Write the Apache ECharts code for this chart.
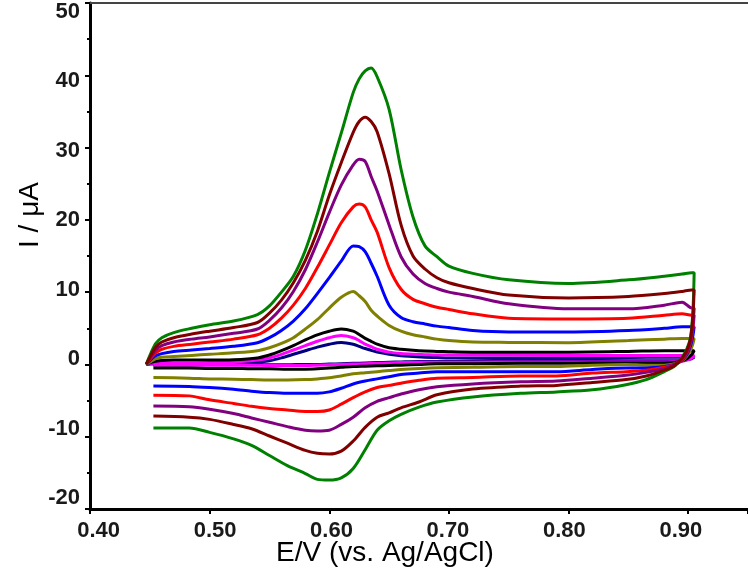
<!DOCTYPE html>
<html>
<head>
<meta charset="utf-8">
<script src="https://cdn.jsdelivr.net/npm/echarts@6/dist/echarts.min.js"></script>
<style>
html,body{margin:0;padding:0;background:#fff;}
#chart{width:748px;height:582px;}
</style>
</head>
<body>
<div id="chart"></div>
<script>
// Potentials (V vs Ag/AgCl) for forward (anodic) and reverse (cathodic) sweeps
const E_FWD = [0.447,0.451,0.455,0.460,0.470,0.485,0.500,0.520,0.540,0.550,0.560,0.570,0.580,0.590,0.600,0.610,0.620,0.625,0.630,0.635,0.640,0.650,0.660,0.670,0.680,0.690,0.700,0.720,0.750,0.800,0.850,0.880,0.895,0.903];
const E_REV = [0.905,0.904,0.902,0.899,0.895,0.889,0.880,0.865,0.848,0.820,0.790,0.760,0.720,0.690,0.675,0.660,0.650,0.640,0.630,0.620,0.610,0.600,0.590,0.580,0.565,0.550,0.535,0.520,0.500,0.483,0.453];

// Currents (µA), forward sweep
const I_FWD_NAVY    = [0,0.05,0.05,0.05,0.05,0.05,0.05,0.1,0.3,0.5,0.9,1.4,1.9,2.4,2.8,3.05,2.8,2.5,2.2,1.95,1.7,1.4,1.2,1.1,1.0,0.95,0.9,0.9,0.9,0.9,0.95,1.0,1.0,1.0];
const I_FWD_MAGENTA = [0,0.15,0.2,0.2,0.2,0.2,0.25,0.3,0.6,0.9,1.4,2.0,2.6,3.2,3.7,4.0,3.7,3.3,2.8,2.45,2.1,1.7,1.5,1.4,1.35,1.3,1.3,1.3,1.3,1.25,1.25,1.25,1.25,1.25];
const I_FWD_BLACK   = [0,0.3,0.45,0.55,0.6,0.6,0.6,0.65,0.9,1.3,1.9,2.6,3.4,4.1,4.6,4.9,4.6,4.15,3.6,3.2,2.8,2.3,2.1,1.95,1.85,1.8,1.75,1.7,1.7,1.7,1.8,1.9,1.9,1.9];
const I_FWD_OLIVE   = [0,0.4,0.8,1.0,1.1,1.25,1.4,1.6,1.9,2.3,2.9,3.7,4.9,6.2,7.8,9.3,10.1,9.5,8.7,7.5,6.7,5.4,4.6,4.1,3.8,3.5,3.3,3.1,3.05,3.0,3.3,3.5,3.6,3.6];
const I_FWD_BLUE    = [0,0.7,1.2,1.5,1.8,2.0,2.2,2.5,3.0,3.7,4.7,6.0,7.7,9.8,12.0,14.3,16.4,16.3,15.6,14.0,12.2,8.2,6.5,5.9,5.6,5.3,5.1,4.7,4.5,4.5,4.7,5.0,5.2,5.2];
const I_FWD_RED     = [0,0.9,1.6,2.1,2.5,2.8,3.1,3.5,4.1,5.0,6.4,8.2,10.5,13.4,16.5,19.6,21.8,22.2,21.8,20.0,18.3,13.4,10.4,9.0,8.4,7.9,7.6,7.0,6.4,6.3,6.4,6.8,7.0,6.8];
const I_FWD_PURPLE  = [0,1.1,2.0,2.6,3.1,3.5,3.8,4.3,4.9,6.1,7.8,10.1,13.1,16.9,21.0,24.8,27.6,28.4,28.1,26.0,24.0,19.3,14.9,12.5,11.2,10.5,10.0,9.4,8.4,7.7,7.7,8.2,8.6,7.8];
const I_FWD_GREEN   = [0,1.6,2.9,3.7,4.4,5.0,5.5,6.0,6.9,8.1,10.0,12.2,15.8,20.8,26.5,32.0,37.6,39.5,40.6,41.0,39.8,35.3,27.0,20.4,16.4,14.9,13.6,12.6,11.7,11.2,11.7,12.2,12.5,12.7];
const I_FWD_DARKRED = [0,1.3,2.4,3.1,3.7,4.2,4.6,5.1,5.8,7.1,8.9,11.3,14.4,18.4,23.4,27.9,32.1,33.6,34.2,33.6,32.2,26.4,19.3,15.0,13.2,12.0,11.3,10.5,9.6,9.2,9.4,9.8,10.1,10.3];

// Currents (µA), reverse sweep
const I_REV_NAVY    = [1.0,0.9,0.75,0.65,0.55,0.5,0.5,0.5,0.5,0.5,0.5,0.5,0.45,0.4,0.4,0.35,0.3,0.25,0.2,0.15,0.1,0.05,0.0,0.0,-0.05,-0.05,-0.05,-0.05,-0.05,-0.05,-0.05];
const I_REV_MAGENTA = [1.25,1.05,0.8,0.6,0.45,0.4,0.35,0.35,0.35,0.35,0.35,0.35,0.3,0.3,0.3,0.25,0.2,0.15,0.1,0.05,0.0,-0.05,-0.1,-0.15,-0.15,-0.15,-0.1,-0.1,-0.1,-0.1,-0.1];
const I_REV_BLACK   = [1.9,1.6,1.2,0.8,0.5,0.3,0.2,0.2,0.2,0.2,0.15,0.15,0.1,0.1,0.0,-0.1,-0.15,-0.2,-0.25,-0.3,-0.4,-0.5,-0.6,-0.65,-0.65,-0.6,-0.6,-0.55,-0.55,-0.5,-0.5];
const I_REV_OLIVE   = [3.6,2.9,2.0,1.2,0.5,0.1,-0.1,-0.1,0.0,-0.1,-0.3,-0.3,-0.4,-0.45,-0.55,-0.7,-0.85,-1.0,-1.15,-1.3,-1.6,-1.85,-2.0,-2.1,-2.15,-2.15,-2.1,-2.05,-2.0,-1.9,-1.8];
const I_REV_BLUE    = [5.2,4.0,2.6,1.4,0.6,0.0,-0.3,-0.5,-0.5,-0.7,-1.0,-1.0,-1.0,-1.0,-1.2,-1.4,-1.7,-2.0,-2.3,-2.7,-3.3,-3.8,-4.0,-4.0,-4.0,-3.9,-3.7,-3.45,-3.2,-3.05,-3.0];
const I_REV_RED     = [6.8,5.0,3.0,1.6,0.7,0.0,-0.4,-0.8,-1.0,-1.2,-1.6,-1.6,-1.8,-1.9,-2.2,-2.6,-2.9,-3.2,-3.8,-4.6,-5.5,-6.3,-6.5,-6.5,-6.3,-6.1,-5.8,-5.4,-4.9,-4.35,-4.25];
const I_REV_PURPLE  = [7.8,5.6,3.3,1.8,0.8,0.0,-0.6,-1.1,-1.5,-1.9,-2.3,-2.4,-2.7,-3.1,-3.5,-4.1,-4.6,-5.1,-6.0,-7.3,-8.3,-9.1,-9.2,-9.1,-8.6,-8.0,-7.4,-6.8,-6.2,-5.85,-5.76];
const I_REV_GREEN   = [12.7,7.5,3.8,2.2,1.0,-0.2,-1.0,-2.1,-2.8,-3.5,-3.8,-4.0,-4.5,-5.2,-5.9,-6.9,-7.8,-9.1,-11.8,-14.4,-15.7,-16.0,-15.9,-15.1,-14.0,-12.6,-11.2,-10.3,-9.4,-8.8,-8.8];
const I_REV_DARKRED = [10.3,6.8,3.6,2.0,0.9,-0.1,-0.8,-1.6,-2.1,-2.5,-2.9,-3.0,-3.4,-4.2,-5.2,-6.0,-6.7,-7.3,-8.7,-10.6,-12.0,-12.4,-12.3,-11.9,-10.9,-9.9,-8.9,-8.3,-7.6,-7.3,-7.15];

// Tick labels and titles
const X_TICKS = [0.40,0.50,0.60,0.70,0.80,0.90];
const Y_TICKS = [-20,-10,0,10,20,30,40,50];
const X_TITLE = 'E/V (vs. Ag/AgCl)';
const Y_TITLE = 'I / \u03bcA';

const CURVES = [
  ['navy',    '#000080', I_FWD_NAVY,    I_REV_NAVY],
  ['magenta', '#ff00ff', I_FWD_MAGENTA, I_REV_MAGENTA],
  ['black',   '#000000', I_FWD_BLACK,   I_REV_BLACK],
  ['olive',   '#808000', I_FWD_OLIVE,   I_REV_OLIVE],
  ['blue',    '#0000ff', I_FWD_BLUE,    I_REV_BLUE],
  ['red',     '#ff0000', I_FWD_RED,     I_REV_RED],
  ['purple',  '#800080', I_FWD_PURPLE,  I_REV_PURPLE],
  ['green',   '#008000', I_FWD_GREEN,   I_REV_GREEN],
  ['darkred', '#800000', I_FWD_DARKRED, I_REV_DARKRED]
];

function cycle(fwd, rev) {
  const pts = [];
  E_FWD.forEach((e, i) => pts.push([e, fwd[i]]));
  E_REV.forEach((e, i) => pts.push([e, rev[i]]));
  return pts;
}

const chart = echarts.init(document.getElementById('chart'), null, {renderer: 'canvas'});
const labelFont = {fontFamily: 'Liberation Sans, Arial, sans-serif', fontSize: 22, fontWeight: 'bold', color: '#1a1a1a'};
const titleFont = '28px "Liberation Sans", Arial, sans-serif';

chart.setOption({
  animation: false,
  backgroundColor: '#ffffff',
  grid: {left: 90, top: 3, width: 663, height: 506, containLabel: false},
  xAxis: [
    {type: 'value', min: 0.4, max: 0.95, interval: 0.1, position: 'bottom',
     axisLine: {onZero: false, lineStyle: {color: '#000', width: 3}},
     axisTick: {show: true, length: 5, lineStyle: {color: '#000', width: 2}},
     axisLabel: {show: false}, splitLine: {show: false}},
    {type: 'value', min: 0.39258, max: 0.95771, position: 'bottom',
     axisLine: {show: false}, axisTick: {show: false}, splitLine: {show: false},
     axisLabel: Object.assign({show: true, margin: 11, customValues: X_TICKS,
       formatter: v => v.toFixed(2)}, labelFont)},
    {type: 'value', min: 0.4, max: 0.95, position: 'top',
     axisLine: {onZero: false, lineStyle: {color: '#444', width: 2}},
     axisTick: {show: false}, axisLabel: {show: false}, splitLine: {show: false}}
  ],
  yAxis: [
    {type: 'value', min: -20, max: 50, interval: 10, position: 'left',
     axisLine: {show: true, onZero: false, lineStyle: {color: '#000', width: 3}},
     axisTick: {show: true, length: 5, lineStyle: {color: '#000', width: 2}},
     minorTick: {show: true, splitNumber: 2, length: 3, lineStyle: {color: '#000', width: 2}},
     axisLabel: {show: false}, splitLine: {show: false}},
    {type: 'value', min: -21.584, max: 51.296, position: 'left',
     axisLine: {show: false}, axisTick: {show: false}, splitLine: {show: false},
     axisLabel: Object.assign({show: true, margin: 10, customValues: Y_TICKS,
       formatter: v => String(v)}, labelFont)}
  ],
  graphic: [
    {type: 'text', x: 30, y: 215, rotation: Math.PI / 2,
     style: {text: Y_TITLE, fill: '#000', font: titleFont,
             textAlign: 'center', textVerticalAlign: 'middle'}},
    {type: 'text', x: 385, y: 553,
     style: {text: X_TITLE, fill: '#000', font: titleFont,
             textAlign: 'center', textVerticalAlign: 'middle'}}
  ],
  series: CURVES.map(([name, color, fwd, rev]) => ({
    name: name, type: 'line', xAxisIndex: 0, yAxisIndex: 0,
    data: cycle(fwd, rev), showSymbol: false, symbol: 'none', smooth: 0.3,
    lineStyle: {color: color, width: 3}, itemStyle: {color: color},
    clip: true
  }))
});
</script>
</body>
</html>
